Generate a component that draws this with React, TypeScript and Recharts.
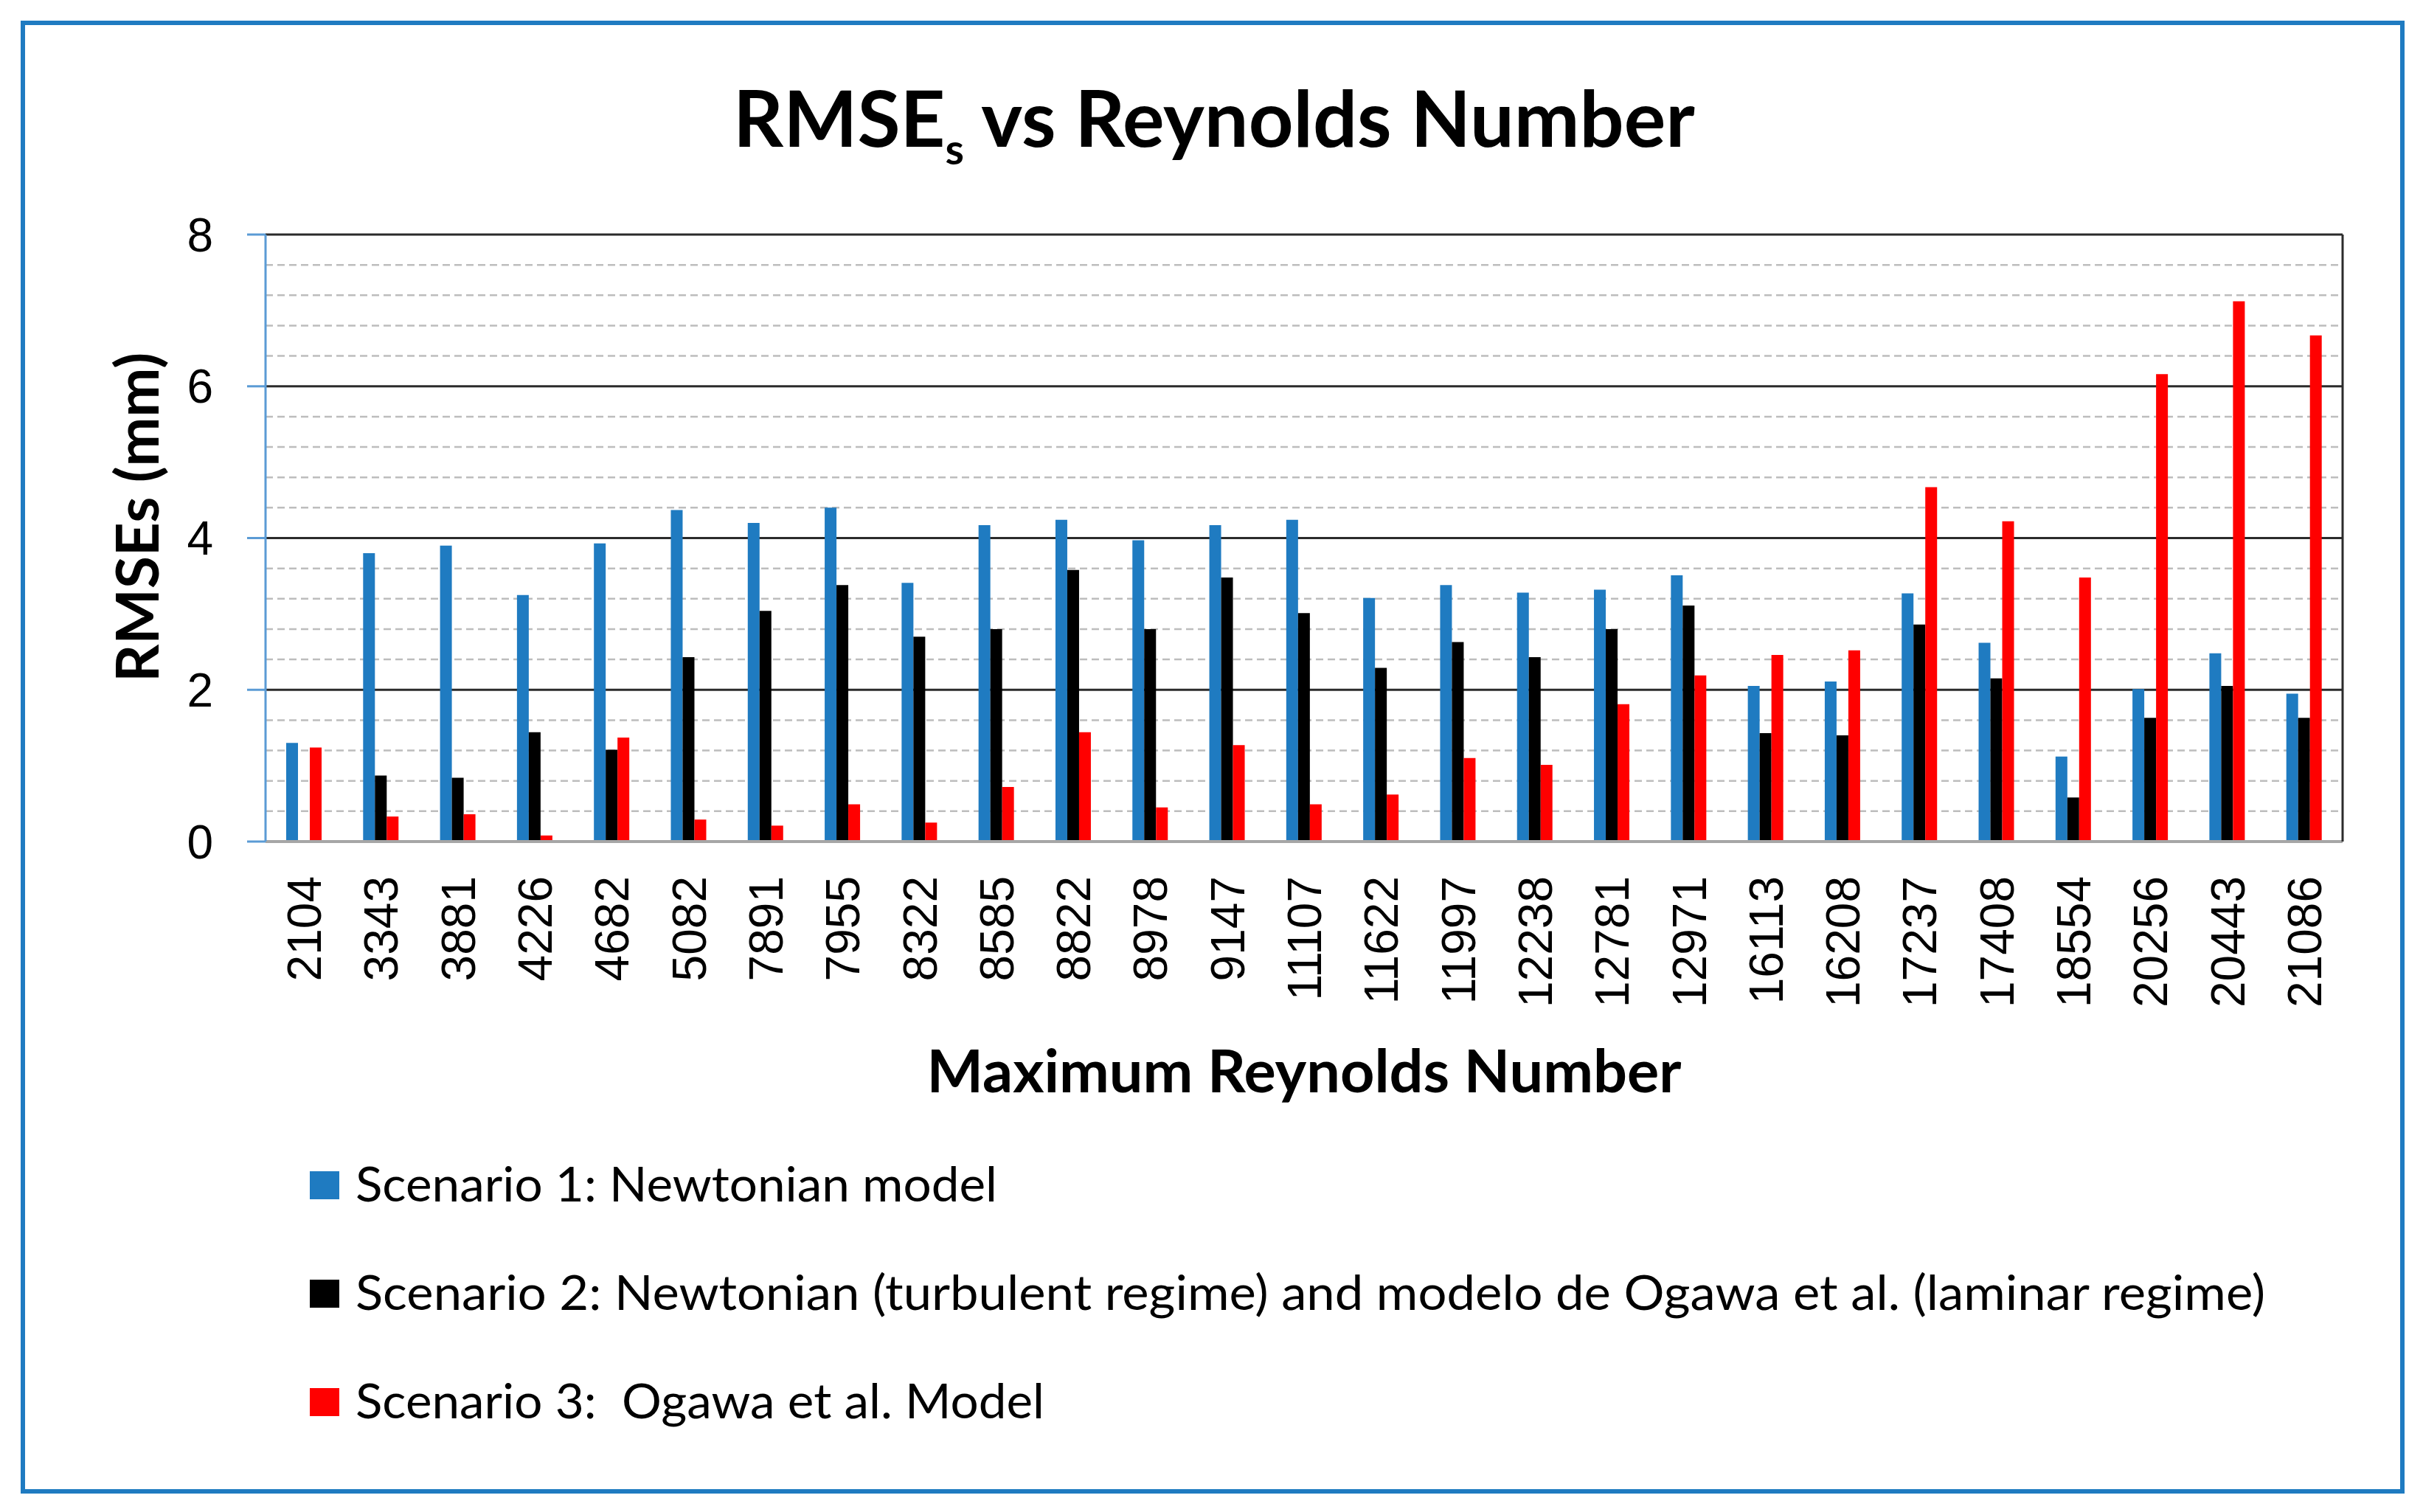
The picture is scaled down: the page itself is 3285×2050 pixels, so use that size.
import React from 'react';
import { BarChart, Bar, XAxis, YAxis, CartesianGrid, Legend } from 'recharts';

const categories = ['2104', '3343', '3881', '4226', '4682', '5082', '7891', '7955', '8322', '8585', '8822', '8978', '9147', '11107', '11622', '11997', '12238', '12781', '12971', '16113', '16208', '17237', '17408', '18554', '20256', '20443', '21086'];
const scenario1 = [1.30, 3.80, 3.90, 3.25, 3.93, 4.37, 4.20, 4.40, 3.41, 4.17, 4.24, 3.97, 4.17, 4.24, 3.21, 3.38, 3.28, 3.32, 3.51, 2.05, 2.11, 3.27, 2.62, 1.12, 2.01, 2.48, 1.95];
const scenario2 = [0, 0.87, 0.84, 1.44, 1.21, 2.43, 3.04, 3.38, 2.70, 2.80, 3.58, 2.80, 3.48, 3.01, 2.29, 2.63, 2.43, 2.80, 3.11, 1.43, 1.40, 2.86, 2.15, 0.58, 1.63, 2.05, 1.63];
const scenario3 = [1.24, 0.33, 0.36, 0.08, 1.37, 0.29, 0.21, 0.49, 0.25, 0.72, 1.44, 0.45, 1.27, 0.49, 0.62, 1.10, 1.01, 1.81, 2.19, 2.46, 2.52, 4.67, 4.22, 3.48, 6.16, 7.12, 6.67];

const yTicks = [0, 2, 4, 6, 8];
const majorGrid = [2, 4, 6, 8];
const minorGrid = [0.4, 0.8, 1.2, 1.6, 2.4, 2.8, 3.2, 3.6, 4.4, 4.8, 5.2, 5.6, 6.4, 6.8, 7.2, 7.6];

const seriesNames = [
  'Scenario 1: Newtonian model',
  'Scenario 2: Newtonian (turbulent regime) and modelo de Ogawa et al. (laminar regime)',
  'Scenario 3:  Ogawa et al. Model',
];
const seriesColors = ['#1f7bc1', '#000000', '#ff0000'];

const data = categories.map((c, i) => ({ re: c, s1: scenario1[i], s2: scenario2[i], s3: scenario3[i] }));

const LATO = "Lato, 'Noto Sans', sans-serif";
const ARIAL = "'Liberation Sans', Arial, sans-serif";

const legendTextWidths = [870, 2589, 934];

const XTick = (props: any) => {
  const { x, y, payload } = props;
  return (
    <text
      transform={`translate(${x},${y}) rotate(-90)`}
      textAnchor="end"
      dy="0.36em"
      fontFamily={ARIAL}
      fontSize={64}
      fill="#000"
    >
      {payload.value}
    </text>
  );
};

const YLabel = (props: any) => {
  const { viewBox } = props;
  const cx = viewBox.x + 55;
  const cy = viewBox.y + viewBox.height / 2 - 28;
  return (
    <text
      transform={`translate(${cx},${cy}) rotate(-90)`}
      textAnchor="middle"
      fontFamily={LATO}
      fontWeight={700}
      fontSize={80}
      fill="#000"
    >
      RMSEs (mm)
    </text>
  );
};

const XLabel = (props: any) => {
  const { viewBox } = props;
  return (
    <text
      x={viewBox.x + viewBox.width / 2}
      y={viewBox.y + 340}
      textAnchor="middle"
      fontFamily={LATO}
      fontWeight={700}
      fontSize={81}
      fill="#000"
    >
      Maximum Reynolds Number
    </text>
  );
};

const LegendContent = (props: any) => {
  const { payload } = props;
  return (
    <svg width={2800} height={400} style={{ display: 'block' }}>
      {(payload || []).map((p: any, i: number) => (
        <g key={i}>
          <rect x={20} y={28 + i * 147} width={40} height={38} fill={p.color} />
          <text
            x={82}
            y={69 + i * 147}
            fontFamily={LATO}
            fontSize={66}
            fill="#000"
            textLength={legendTextWidths[i]}
            lengthAdjust="spacingAndGlyphs"
            style={{ whiteSpace: 'pre' }}
          >
            {p.value}
          </text>
        </g>
      ))}
    </svg>
  );
};

export default function App() {
  return (
    <div style={{ position: 'absolute', left: 0, top: 0, width: 3285, height: 2050, background: '#fff', overflow: 'hidden' }}>
      <div
        style={{
          position: 'absolute',
          left: 28,
          top: 28,
          width: 3232,
          height: 1997,
          border: '6px solid #1f7bc1',
          boxSizing: 'border-box',
        }}
      />
      <svg width={3285} height={300} style={{ position: 'absolute', left: 0, top: 0 }}>
        <text x={1646} y={199} textAnchor="middle" fontFamily={LATO} fontWeight={700} fontSize={106} fill="#000">
          RMSE
          <tspan fontSize={58} dy={24}>s</tspan>
          <tspan dy={-24}> vs Reynolds Number</tspan>
        </text>
      </svg>
      <div style={{ position: 'absolute', left: 0, top: 0 }}>
        <BarChart
          width={3285}
          height={2050}
          data={data}
          margin={{ top: 318, right: 108, bottom: 509, left: 160 }}
          barGap={0}
        >
          <CartesianGrid
            horizontalValues={minorGrid}
            vertical={false}
            stroke="#bdbdbd"
            strokeWidth={2.5}
            strokeDasharray="10 6"
          />
          <CartesianGrid horizontalValues={majorGrid} vertical={false} stroke="#2b2b2b" strokeWidth={3} />
          <XAxis
            dataKey="re"
            height={400}
            interval={0}
            tickLine={false}
            tickSize={0}
            tickMargin={47}
            axisLine={{ stroke: '#a6a6a6', strokeWidth: 4 }}
            tick={<XTick />}
            label={<XLabel />}
          />
          <YAxis
            width={200}
            domain={[0, 8]}
            ticks={yTicks}
            interval={0}
            tickSize={25}
            tickMargin={46}
            axisLine={{ stroke: '#5b9bd5', strokeWidth: 3 }}
            tickLine={{ stroke: '#5b9bd5', strokeWidth: 3 }}
            tick={{ fontFamily: ARIAL, fontSize: 64, fill: '#000' }}
            label={<YLabel />}
          />
          <YAxis
            yAxisId="right"
            orientation="right"
            width={1}
            domain={[0, 8]}
            tick={false}
            tickLine={false}
            axisLine={{ stroke: '#2b2b2b', strokeWidth: 3 }}
          />
          <Legend
            layout="vertical"
            align="center"
            verticalAlign="middle"
            content={<LegendContent />}
            wrapperStyle={{ position: 'absolute', left: 400, top: 1560, width: 2800, height: 400 }}
          />
          <Bar dataKey="s1" name={seriesNames[0]} fill={seriesColors[0]} barSize={16} isAnimationActive={false} />
          <Bar dataKey="s2" name={seriesNames[1]} fill={seriesColors[1]} barSize={16} isAnimationActive={false} />
          <Bar dataKey="s3" name={seriesNames[2]} fill={seriesColors[2]} barSize={16} isAnimationActive={false} />
        </BarChart>
      </div>
    </div>
  );
}
